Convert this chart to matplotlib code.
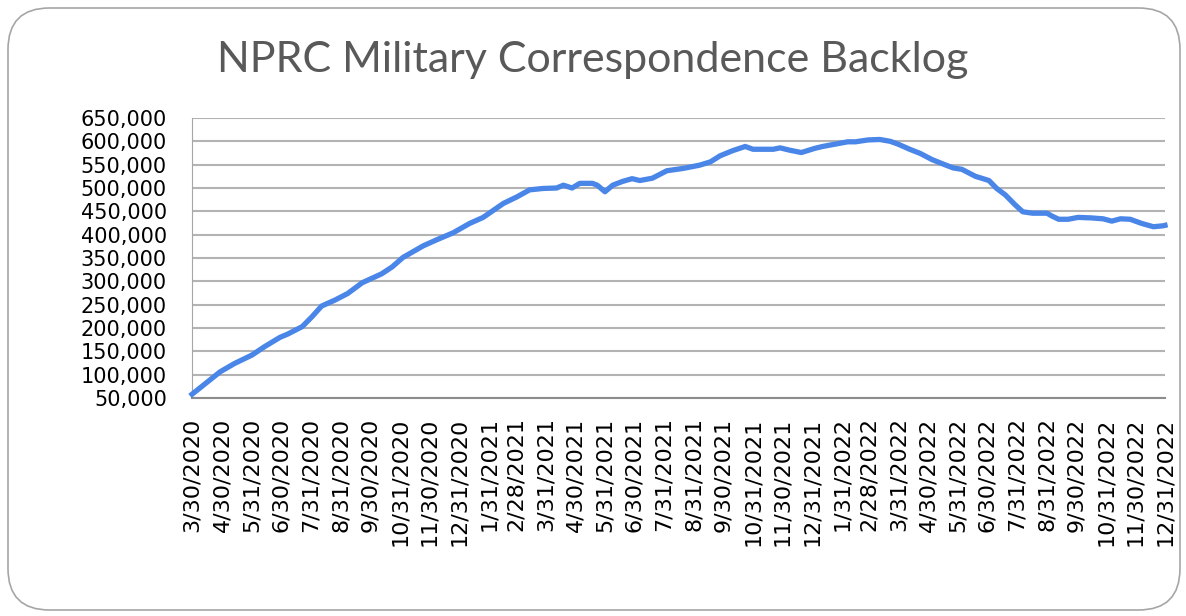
import matplotlib
matplotlib.use("Agg")
import matplotlib.pyplot as plt
from matplotlib.patches import FancyBboxPatch
from matplotlib.ticker import FuncFormatter, MultipleLocator
import pandas as pd

# backlog readings
dates = [
    "2020-03-30", "2020-04-28", "2020-05-13", "2020-05-31", "2020-06-13",
    "2020-06-29", "2020-07-07", "2020-07-22", "2020-08-01", "2020-08-11",
    "2020-08-25", "2020-09-07", "2020-09-22", "2020-10-12", "2020-10-23",
    "2020-11-03", "2020-11-24", "2020-12-08", "2020-12-25", "2021-01-11",
    "2021-01-25", "2021-02-15", "2021-03-01", "2021-03-14", "2021-03-28",
    "2021-04-11", "2021-04-18", "2021-04-27", "2021-05-05", "2021-05-18",
    "2021-05-23", "2021-05-31", "2021-06-08", "2021-06-18", "2021-06-28",
    "2021-07-06", "2021-07-19", "2021-08-03", "2021-08-20", "2021-09-06",
    "2021-09-17", "2021-09-27", "2021-10-10", "2021-10-23", "2021-10-31",
    "2021-11-21", "2021-11-28", "2021-12-08", "2021-12-20", "2022-01-03",
    "2022-01-11", "2022-01-24", "2022-02-06", "2022-02-14", "2022-02-27",
    "2022-03-11", "2022-03-22", "2022-03-30", "2022-04-11", "2022-04-22",
    "2022-05-04", "2022-05-16", "2022-05-26", "2022-06-04", "2022-06-18",
    "2022-07-02", "2022-07-10", "2022-07-19", "2022-07-29", "2022-08-06",
    "2022-08-16", "2022-08-31", "2022-09-05", "2022-09-12", "2022-09-22",
    "2022-10-02", "2022-10-15", "2022-10-28", "2022-11-06", "2022-11-15",
    "2022-11-25", "2022-12-07", "2022-12-19", "2022-12-29", "2022-12-31",
]
backlog = [
    58000, 106000, 124000, 142000, 160000,
    180000, 187000, 203000, 224000, 247000,
    260000, 274000, 297000, 316000, 331000,
    351000, 376000, 389000, 404000, 424000,
    437000, 467000, 481000, 496000, 499000,
    500000, 506000, 500000, 510000, 510000,
    506000, 492000, 506000, 514000, 520000,
    516000, 521000, 537000, 542000, 549000,
    556000, 569000, 580000, 589000, 583000,
    583000, 586000, 581000, 576000, 585000,
    589000, 594000, 599000, 599000, 603000,
    604000, 600000, 594000, 583000, 574000,
    561000, 551000, 543000, 540000, 525000,
    516000, 499000, 485000, 464000, 449000,
    446000, 446000, 440000, 433000, 433000,
    437000, 436000, 434000, 429000, 434000,
    433000, 424000, 417000, 419000, 420000,
]

tick_dates = ["2020-03-30"] + [
    d.strftime("%Y-%m-%d")
    for d in pd.date_range("2020-04-30", "2022-12-31", freq="ME")
]

x = pd.to_datetime(dates)
ticks = pd.to_datetime(tick_dates)

fig = plt.figure(figsize=(11.86, 6.16), dpi=100)

# rounded frame around the whole chart
frame = FancyBboxPatch(
    (8 / 1186, 6 / 616), 1172 / 1186, 602 / 616,
    boxstyle="round,pad=0,rounding_size=0.035",
    transform=fig.transFigure,
    facecolor="none", edgecolor="#a6a6a6", linewidth=1.2,
    mutation_aspect=1186 / 616, zorder=-1,
)
fig.patches.append(frame)

ax = fig.add_axes([192 / 1186, 1 - 398 / 616, 973 / 1186, 280 / 616])
ax.set_facecolor("none")

ax.plot(x, backlog, color="#4a86e8", linewidth=3.8, solid_joinstyle="round",
        clip_on=False, zorder=3)

ax.set_ylim(50000, 650000)
ax.yaxis.set_major_locator(MultipleLocator(50000))
ax.yaxis.set_major_formatter(FuncFormatter(lambda v, p: f"{int(v):,}"))
ax.grid(axis="y", color="#b3b3b3", linewidth=1.5)
ax.set_axisbelow(True)

ax.set_xlim(ticks[0], ticks[-1])
ax.set_xticks(ticks)
ax.set_xticklabels([f"{d.month}/{d.day}/{d.year}" for d in ticks], rotation=90)

ax.tick_params(axis="both", length=0, colors="black")
ax.tick_params(axis="y", pad=18, labelsize=15)
ax.tick_params(axis="x", pad=14, labelsize=16)

for side in ["top", "right"]:
    ax.spines[side].set_visible(False)
ax.spines["left"].set_color("#a6a6a6")
ax.spines["bottom"].set_color("#8c8c8c")
ax.spines["bottom"].set_linewidth(1.5)

fig.text(
    0.5, 1 - 60 / 616, "NPRC Military Correspondence Backlog",
    ha="center", va="center", fontsize=31, color="#595959", family="Lato",
)

fig.savefig("out.png", dpi=100)
plt.close(fig)
